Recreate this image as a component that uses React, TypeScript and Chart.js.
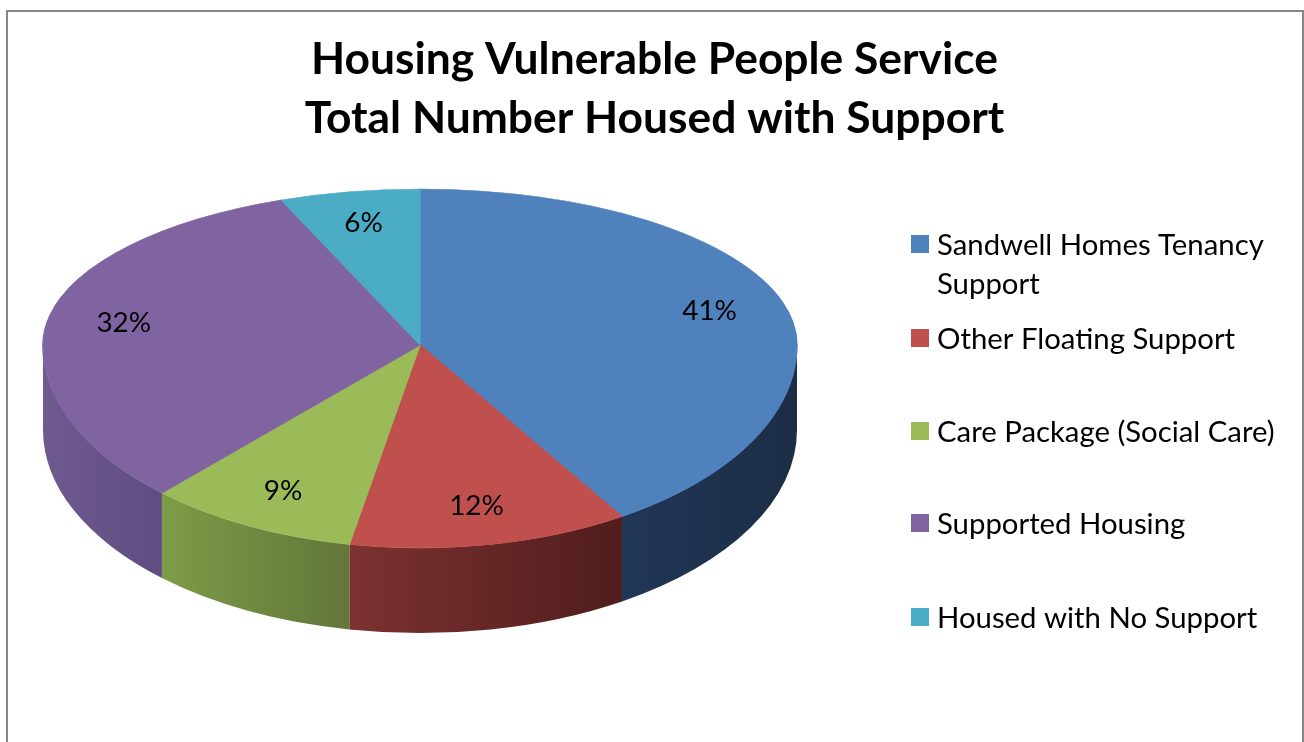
import React, { useEffect, useRef } from 'react';
import { Chart, registerables } from 'chart.js';

Chart.register(...registerables);

// ---- data ----
const titleLines = ['Housing Vulnerable People Service', 'Total Number Housed with Support'];
const categories = [
  'Sandwell Homes Tenancy Support',
  'Other Floating Support',
  'Care Package (Social Care)',
  'Supported Housing',
  'Housed with No Support',
];
const shares = [41, 12, 9, 32, 6];
const topColors = ['#4f81bd', '#c0504d', '#9bbb59', '#8064a2', '#4bacc6'];
const sideLight = ['#213757', '#7c3231', '#7d9c47', '#6e5a8f', '#3a8aa0'];
const sideDark = ['#1c2d45', '#4f1d1c', '#62763a', '#5f4c80', '#2f7185'];

// ---- layout ----
const W = 1304;
const H = 742;
const CX = 420;
const CY = 345;
const RX = 377;
const RY_TOP = 156;
const RY_BOT = 203;
const DEPTH = 85;
const LABEL_F = 0.8;
const FONT = 'Lato, "Open Sans", sans-serif';
const CAP = 0.717;
const LEGEND_BOX_X = 911;
const LEGEND_TEXT_X = 937;
const LEGEND_Y = [244, 338, 431, 523, 617];
const LEGEND_LINE = 39;
const LEGEND_MAXW = 360;

function fitSize(text: string, weight: string, target: number, base: number): number {
  const c = document.createElement('canvas').getContext('2d')!;
  c.font = `${weight} ${base}px ${FONT}`;
  const w = c.measureText(text).width;
  return w > 0 ? (base * target) / w : base;
}

function wrap(ctx: CanvasRenderingContext2D, text: string, maxW: number): string[] {
  const words = text.split(' ');
  const lines: string[] = [];
  let cur = '';
  for (const w of words) {
    const t = cur ? cur + ' ' + w : w;
    if (cur && ctx.measureText(t).width > maxW) {
      lines.push(cur);
      cur = w;
    } else cur = t;
  }
  if (cur) lines.push(cur);
  return lines;
}

export default function App() {
  const ref = useRef<HTMLCanvasElement | null>(null);

  useEffect(() => {
    const canvas = ref.current;
    if (!canvas) return;
    const titleSize = fitSize(titleLines[0], 'bold', 687, 44);
    const legendSize = fitSize('Sandwell Homes Tenancy', 'normal', 327, 28);
    const labelSize = legendSize * 0.95;
    const titleLH = 59;

    const pie3d = {
      id: 'pie3d',
      beforeDraw(chart: any) {
        const ctx: CanvasRenderingContext2D = chart.ctx;
        ctx.save();
        ctx.fillStyle = '#ffffff';
        ctx.fillRect(0, 0, W, H);
        ctx.strokeStyle = '#878787';
        ctx.lineWidth = 2;
        ctx.strokeRect(7, 11, 1296, 900);
        ctx.restore();
      },
      beforeDatasetsDraw(chart: any) {
        const ctx: CanvasRenderingContext2D = chart.ctx;
        const arcs = chart.getDatasetMeta(0).data;
        if (!arcs.length) return;
        const ax = arcs[0].x;
        const ay = arcs[0].y;
        const r = arcs[0].outerRadius;
        const TWO = Math.PI * 2;
        // side walls
        arcs.forEach((arc: any, i: number) => {
          let s = arc.startAngle;
          let e = arc.endAngle;
          while (s < 0) {
            s += TWO;
            e += TWO;
          }
          for (const off of [0, TWO]) {
            const t1 = Math.max(s, off);
            const t2 = Math.min(e, off + Math.PI);
            if (t2 <= t1) continue;
            const a1 = t1 - off;
            const a2 = t2 - off;
            const x1 = CX + RX * Math.cos(a1);
            const x2 = CX + RX * Math.cos(a2);
            const g = ctx.createLinearGradient(Math.min(x1, x2), 0, Math.max(x1, x2), 0);
            g.addColorStop(0, sideLight[i]);
            g.addColorStop(1, sideDark[i]);
            ctx.save();
            ctx.fillStyle = g;
            ctx.beginPath();
            ctx.ellipse(CX, CY, RX, RY_BOT, 0, a1, a2);
            ctx.lineTo(x2, CY + RY_BOT * Math.sin(a2) + DEPTH);
            ctx.ellipse(CX, CY + DEPTH, RX, RY_BOT, 0, a2, a1, true);
            ctx.closePath();
            ctx.fill();
            ctx.restore();
          }
        });
        // top face in two halves (pseudo perspective)
        const halves: [number, number, number][] = [
          [0, CY + 0.5, RY_TOP],
          [CY - 0.5, H, RY_BOT],
        ];
        for (const [y0, y1, ry] of halves) {
          ctx.save();
          ctx.beginPath();
          ctx.rect(0, y0, W, y1 - y0);
          ctx.clip();
          ctx.translate(CX, CY);
          ctx.scale(RX / r, ry / r);
          ctx.translate(-ax, -ay);
          arcs.forEach((a: any) => a.draw(ctx));
          ctx.restore();
        }
        return false;
      },
      afterDraw(chart: any) {
        const ctx: CanvasRenderingContext2D = chart.ctx;
        const arcs = chart.getDatasetMeta(0).data;
        const data = chart.data.datasets[0].data as number[];
        const total = data.reduce((a, b) => a + b, 0);
        ctx.save();
        ctx.fillStyle = '#000';
        ctx.font = `normal ${labelSize}px ${FONT}`;
        ctx.textAlign = 'center';
        ctx.textBaseline = 'alphabetic';
        arcs.forEach((arc: any, i: number) => {
          const mid = (arc.startAngle + arc.endAngle) / 2;
          const c = Math.cos(mid);
          const s = Math.sin(mid);
          const x = CX + RX * LABEL_F * c;
          const y = CY + (s < 0 ? RY_TOP : RY_BOT) * LABEL_F * s;
          const txt = Math.round((data[i] / total) * 100) + '%';
          ctx.fillText(txt, x, y + (CAP * labelSize) / 2);
        });
        // legend
        ctx.font = `normal ${legendSize}px ${FONT}`;
        ctx.textAlign = 'left';
        const labels = chart.data.labels as string[];
        labels.forEach((lab, i) => {
          const yc = LEGEND_Y[i];
          ctx.fillStyle = topColors[i];
          ctx.fillRect(LEGEND_BOX_X, yc - 9, 18, 18);
          ctx.fillStyle = '#000';
          const lines = wrap(ctx, lab, LEGEND_MAXW);
          lines.forEach((ln, k) => {
            ctx.fillText(ln, LEGEND_TEXT_X, yc + k * LEGEND_LINE + (CAP * legendSize) / 2);
          });
        });
        ctx.restore();
      },
    };

    const chart = new Chart(canvas, {
      type: 'pie',
      data: {
        labels: categories,
        datasets: [
          {
            data: shares,
            backgroundColor: topColors,
            borderColor: topColors,
            borderWidth: 1,
          },
        ],
      },
      options: {
        responsive: false,
        animation: false,
        events: [],
        layout: { padding: { left: 5, right: 0, top: 0, bottom: 0 } },
        plugins: {
          legend: { display: false },
          tooltip: { enabled: false },
          title: {
            display: true,
            text: titleLines,
            color: '#000',
            font: { family: FONT, weight: 'bold', size: titleSize, lineHeight: titleLH / titleSize },
            padding: { top: 60 - titleLH / 2, bottom: 10 },
          },
        },
      },
      plugins: [pie3d],
    } as any);

    return () => chart.destroy();
  }, []);

  return (
    <canvas
      ref={ref}
      width={W}
      height={H}
      style={{ position: 'fixed', left: 0, top: 0, width: W, height: H, display: 'block' }}
    />
  );
}
